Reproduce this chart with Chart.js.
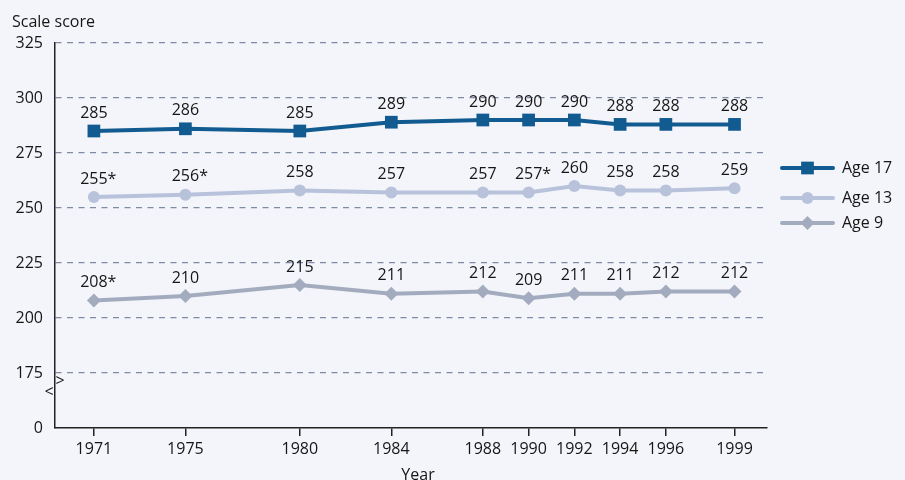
<!DOCTYPE html>
<html><head><meta charset="utf-8">
<script src="https://cdn.jsdelivr.net/npm/chart.js@4.4.0/dist/chart.umd.min.js"></script>
<style>html,body{margin:0;padding:0;background:#F4F5FA;} #wrap{width:905px;height:480px;position:relative;}</style>
</head><body><div id="wrap"><canvas id="c" width="905" height="480"></canvas></div>
<script>
// ---- data ----
const years = [1971, 1975, 1980, 1984, 1988, 1990, 1992, 1994, 1996, 1999];
const age17 = [285, 286, 285, 289, 290, 290, 290, 288, 288, 288];
const age13 = [255, 256, 258, 257, 257, 257, 260, 258, 258, 259];
const age9  = [208, 210, 215, 211, 212, 209, 211, 211, 212, 212];
const age17Marks = ['', '', '', '', '', '', '', '', '', ''];
const age13Marks = ['*', '*', '', '', '', '*', '', '', '', ''];
const age9Marks  = ['*', '', '', '', '', '', '', '', '', ''];
const seriesNames = ['Age 17', 'Age 13', 'Age 9'];
const yTickValues = [150, 175, 200, 225, 250, 275, 300, 325];
const yTickLabels = ['0', '175', '200', '225', '250', '275', '300', '325'];
const yTitle = 'Scale score';
const xTitle = 'Year';

// ---- styles ----
const BG = '#F4F5FA';
const FONT = '"Open Sans", "Noto Sans", sans-serif';
const TEXT = '#161616';
const colors = ['#125B90', '#B8C2DB', '#A3ACBF'];
const styles = ['rect', 'circle', 'rectRot'];
const radii = [9, 6, 7];

const pts = arr => arr.map((v, i) => ({x: years[i], y: v}));
const seriesData = [age17, age13, age9];
const seriesMarks = [age17Marks, age13Marks, age9Marks];

const datasets = seriesData.map((arr, k) => ({
  label: seriesNames[k],
  data: pts(arr),
  marks: seriesMarks[k],
  borderColor: colors[k],
  backgroundColor: colors[k],
  pointBackgroundColor: colors[k],
  pointBorderColor: colors[k],
  pointBorderWidth: 0,
  borderWidth: 4,
  pointStyle: styles[k],
  pointRadius: radii[k],
  pointHoverRadius: radii[k],
  tension: 0,
  fill: false
}));

function drawMarker(ctx, style, r, x, y, color) {
  ctx.save();
  ctx.fillStyle = color;
  ctx.beginPath();
  if (style === 'rect') {
    const s = r * Math.SQRT1_2;
    ctx.rect(x - s, y - s, 2 * s, 2 * s);
  } else if (style === 'circle') {
    ctx.arc(x, y, r, 0, Math.PI * 2);
  } else {
    ctx.moveTo(x - r, y); ctx.lineTo(x, y - r); ctx.lineTo(x + r, y); ctx.lineTo(x, y + r); ctx.closePath();
  }
  ctx.fill();
  ctx.restore();
}

const deco = {
  id: 'deco',
  beforeDraw(chart) {
    const ctx = chart.ctx;
    ctx.save();
    ctx.fillStyle = BG;
    ctx.fillRect(0, 0, chart.width, chart.height);
    ctx.restore();
  },
  afterDraw(chart) {
    const ctx = chart.ctx;
    const ca = chart.chartArea;
    ctx.save();
    // value labels
    ctx.fillStyle = TEXT;
    ctx.font = '16px ' + FONT;
    ctx.textBaseline = 'middle';
    ctx.textAlign = 'left';
    chart.data.datasets.forEach((ds, di) => {
      const meta = chart.getDatasetMeta(di);
      meta.data.forEach((p, i) => {
        const num = String(ds.data[i].y);
        const w = ctx.measureText(num).width;
        ctx.fillText(num, p.x - w / 2, p.y - 18);
        if (ds.marks[i]) ctx.fillText(ds.marks[i], p.x + w / 2, p.y - 18);
      });
    });
    // y title
    ctx.textBaseline = 'alphabetic';
    ctx.fillText(yTitle, 12, 27);
    // x title
    ctx.textAlign = 'center';
    ctx.fillText(xTitle, (ca.left + ca.right) / 2 + 7, 480);
    // axis break marks
    ctx.font = '16px ' + FONT;
    ctx.textBaseline = 'middle';
    ctx.fillText('>', ca.left + 5, ca.bottom - 47);
    ctx.fillText('<', ca.left - 6, ca.bottom - 36);
    // legend
    const legY = [168, 198, 223];
    const lx0 = ca.right + 15, lx1 = ca.right + 66;
    ctx.textAlign = 'left';
    chart.data.datasets.forEach((ds, k) => {
      const y = ca.top + (legY[k] - 43);
      ctx.strokeStyle = colors[k];
      ctx.lineWidth = 4;
      ctx.lineCap = 'round';
      ctx.beginPath(); ctx.moveTo(lx0, y); ctx.lineTo(lx1, y); ctx.stroke();
      drawMarker(ctx, styles[k], radii[k], (lx0 + lx1) / 2, y, colors[k]);
      ctx.fillStyle = TEXT;
      ctx.fillText(ds.label, lx1 + 9, y);
    });
    ctx.restore();
  }
};

new Chart(document.getElementById('c'), {
  type: 'line',
  data: { datasets },
  plugins: [deco],
  options: {
    responsive: false,
    devicePixelRatio: 1,
    animation: false,
    events: [],
    layout: { padding: { top: 43, right: 138, left: 0, bottom: 0 } },
    plugins: { legend: { display: false }, tooltip: { enabled: false } },
    scales: {
      x: {
        type: 'linear',
        min: 1969.3,
        max: 2000.42,
        afterBuildTicks: s => { s.ticks = years.map(v => ({value: v})); },
        afterFit: s => { s.height = 52; },
        grid: { drawOnChartArea: false, drawTicks: true, tickLength: 8, color: '#222', lineWidth: 1.5 },
        border: { display: true, color: '#222', width: 1.5 },
        ticks: { color: TEXT, font: { family: FONT, size: 16 }, padding: 4, autoSkip: false, maxRotation: 0,
                 callback: v => String(v) },
        title: { display: false }
      },
      y: {
        type: 'linear',
        min: 150,
        max: 325,
        afterBuildTicks: s => { s.ticks = yTickValues.map(v => ({value: v})); },
        afterFit: s => { s.width = 55; },
        grid: { drawTicks: false, color: ctx => ctx.tick && ctx.tick.value === 150 ? 'rgba(0,0,0,0)' : '#7F8AA3', lineWidth: 1.2 },
        border: { display: true, color: '#222', width: 1.5, dash: [6, 5.5] },
        ticks: { color: TEXT, font: { family: FONT, size: 16 }, padding: 12,
                 callback: (v) => yTickLabels[yTickValues.indexOf(v)] }
      }
    }
  }
});
</script>
</body></html>
